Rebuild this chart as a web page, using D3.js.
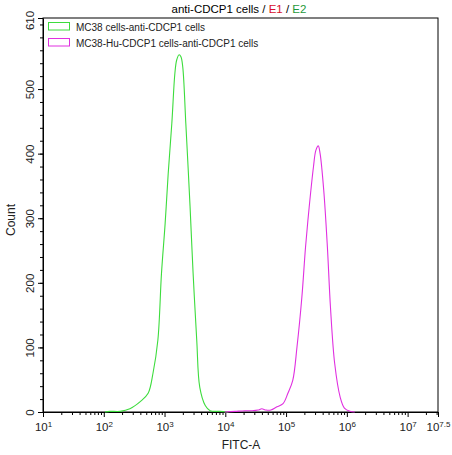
<!DOCTYPE html>
<html>
<head>
<meta charset="utf-8">
<script src="https://cdn.jsdelivr.net/npm/d3@7"></script>
<style>
  body { margin: 0; background: #fff; }
  svg { font-family: "Liberation Sans", Arial, sans-serif; }
</style>
</head>
<body>
<div id="chart"></div>
<script>
// histogram outlines, x given as log10(FITC-A), y as count
var greenLog = [2.02, 2.10, 2.27, 2.43, 2.60, 2.73, 2.81, 2.89, 2.95, 3.01, 3.06, 3.12, 3.17, 3.20, 3.24, 3.27, 3.30, 3.35, 3.42, 3.47, 3.53, 3.58, 3.67, 3.75, 3.91, 4.05];
var greenCount = [0, 1, 1, 5, 16, 29, 60, 111, 215, 292, 369, 447, 524, 545, 553, 550, 534, 447, 318, 215, 111, 38, 10, 2, 1, 0];

var magentaLog = [3.99, 4.16, 4.32, 4.44, 4.54, 4.60, 4.67, 4.75, 4.85, 4.95, 5.03, 5.11, 5.18, 5.26, 5.32, 5.38, 5.45, 5.49, 5.53, 5.56, 5.62, 5.68, 5.73, 5.80, 5.89, 5.96, 6.05, 6.13];
var magentaCount = [0, 1, 2, 2, 3, 5, 3, 3, 8, 13, 29, 49, 101, 178, 255, 317, 379, 405, 412, 400, 343, 255, 163, 75, 23, 6, 1, 0];

var seriesNames = ["MC38 cells-anti-CDCP1 cells", "MC38-Hu-CDCP1 cells-anti-CDCP1 cells"];
var seriesColors = ["#3ddc3d", "#e030e0"];

var xTickExps = [1, 2, 3, 4, 5, 6, 7, 7.5];
var yTickValues = [0, 100, 200, 300, 400, 500, 610];
var xMinExp = 1, xMaxExp = 7.5, yMax = 610;

var margin = {top: 18, right: 14, bottom: 43, left: 43},
    width = 452 - margin.left - margin.right,
    height = 455 - margin.top - margin.bottom;

var svg = d3.select("#chart").append("svg")
    .attr("width", 452)
    .attr("height", 455);

var g = svg.append("g")
    .attr("transform", "translate(" + margin.left + "," + margin.top + ")");

var x = d3.scaleLog()
    .domain([Math.pow(10, xMinExp), Math.pow(10, xMaxExp)])
    .range([0, width]);

var y = d3.scaleLinear()
    .domain([0, yMax])
    .range([height, 0]);

// title
var title = svg.append("text")
    .attr("x", 239)
    .attr("y", 13)
    .attr("text-anchor", "middle")
    .style("font-size", "11.5px");
title.append("tspan").attr("fill", "#000").text("anti-CDCP1 cells / ");
title.append("tspan").attr("fill", "#d8102c").text("E1");
title.append("tspan").attr("fill", "#000").text(" / ");
title.append("tspan").attr("fill", "#1f9a3c").text("E2");

// minor ticks x
var minorX = [];
for (var e = xMinExp; e < 8; e++) {
  for (var k = 2; k <= 9; k++) {
    var v = k * Math.pow(10, e);
    if (v < Math.pow(10, xMaxExp)) minorX.push(v);
  }
}

g.append("g")
    .attr("transform", "translate(0," + height + ")")
    .call(d3.axisBottom(x).tickValues(minorX).tickSize(3).tickFormat(""))
    .call(function(s) { s.select(".domain").remove(); });

var xAxis = g.append("g")
    .attr("transform", "translate(0," + height + ")")
    .call(d3.axisBottom(x)
      .tickValues(xTickExps.map(function(d) { return Math.pow(10, d); }))
      .tickSize(5)
      .tickSizeOuter(0)
      .tickFormat(""));

xAxis.selectAll(".tick").each(function(d, i) {
  var t = d3.select(this).append("text")
      .attr("y", 19)
      .attr("fill", "#222")
      .attr("text-anchor", "middle")
      .style("font-size", "11.5px");
  t.append("tspan").text("10");
  t.append("tspan")
      .attr("dy", "-4")
      .style("font-size", "8px")
      .text(xTickExps[i]);
});

// minor ticks y
g.append("g")
    .call(d3.axisLeft(y).tickValues(d3.range(20, 610, 20)).tickSize(3).tickFormat(""))
    .call(function(s) { s.select(".domain").remove(); });

var yAxis = g.append("g")
    .call(d3.axisLeft(y).tickValues(yTickValues).tickSize(5).tickSizeOuter(0).tickFormat(""));

yAxis.selectAll(".tick").append("text")
    .attr("transform", function(d) { return "translate(-9," + (d === 610 ? 2 : 0) + ") rotate(-90)"; })
    .attr("fill", "#222")
    .attr("text-anchor", "middle")
    .style("font-size", "11.5px")
    .text(function(d) { return d; });

g.selectAll(".domain").attr("stroke", "#000");
g.selectAll(".tick line").attr("stroke", "#000");

// frame
g.append("rect")
    .attr("width", width)
    .attr("height", height)
    .attr("fill", "none")
    .attr("stroke", "#000");

// axis titles
svg.append("text")
    .attr("x", 241)
    .attr("y", 449)
    .attr("text-anchor", "middle")
    .style("font-size", "12px")
    .attr("fill", "#222")
    .text("FITC-A");

svg.append("text")
    .attr("transform", "translate(15,220) rotate(-90)")
    .attr("text-anchor", "middle")
    .style("font-size", "12px")
    .attr("fill", "#222")
    .text("Count");

// curves
var line = d3.line()
    .x(function(d) { return x(Math.pow(10, d[0])); })
    .y(function(d) { return y(d[1]); })
    .curve(d3.curveCatmullRom.alpha(0.5));

var series = [
  d3.zip(greenLog, greenCount),
  d3.zip(magentaLog, magentaCount)
];

g.selectAll(".curve")
    .data(series)
  .enter().append("path")
    .attr("class", "curve")
    .attr("fill", "none")
    .attr("stroke", function(d, i) { return seriesColors[i]; })
    .attr("stroke-width", 1.1)
    .attr("d", line);

// legend
var legend = svg.append("g")
    .attr("transform", "translate(48,22)");

legend.selectAll("rect")
    .data(seriesNames)
  .enter().append("rect")
    .attr("x", 0.5)
    .attr("y", function(d, i) { return 0.5 + i * 16; })
    .attr("width", 21)
    .attr("height", 7.5)
    .attr("fill", "none")
    .attr("stroke", function(d, i) { return seriesColors[i]; });

legend.selectAll("text")
    .data(seriesNames)
  .enter().append("text")
    .attr("x", 28)
    .attr("y", function(d, i) { return 8.5 + i * 16; })
    .style("font-size", "10px")
    .attr("fill", "#222")
    .text(function(d) { return d; });
</script>
</body>
</html>
